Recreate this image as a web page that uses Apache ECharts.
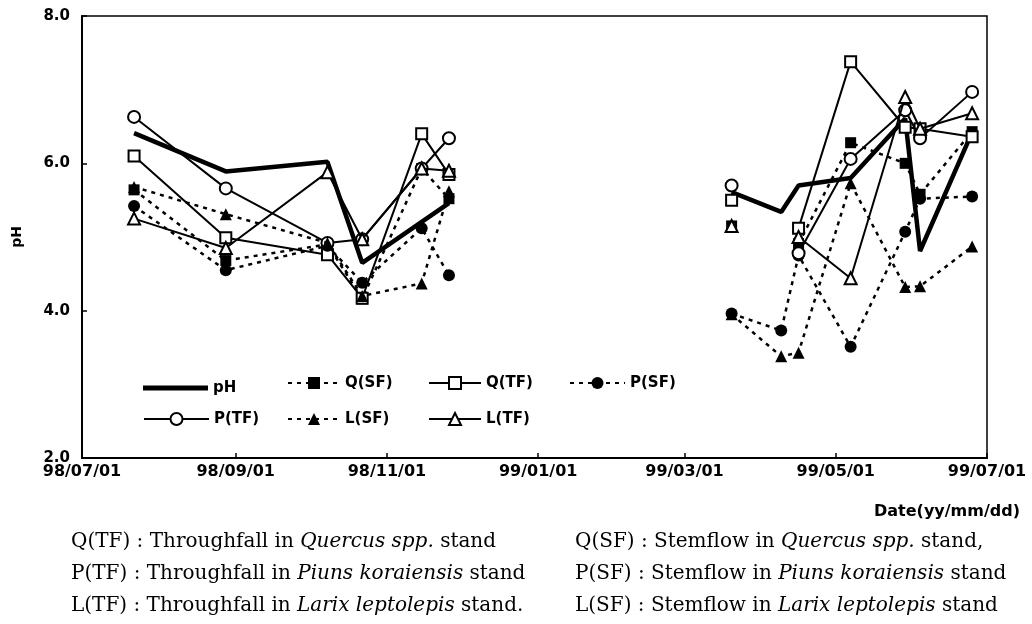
<!DOCTYPE html>
<html>
<head>
<meta charset="utf-8">
<script src="https://cdn.jsdelivr.net/npm/echarts@6/dist/echarts.min.js"></script>
<style>
html,body{margin:0;padding:0;background:#fff;}
#chart{width:1032px;height:624px;}
</style>
</head>
<body>
<div id="chart"></div>
<script>
// ---- Data ----
const tickLabels = ['98/07/01','98/09/01','98/11/01','99/01/01','99/03/01','99/05/01','99/07/01'];
const dates1 = ['1998-07-22','1998-08-28','1998-10-08','1998-10-22','1998-11-15','1998-11-26'];
const dates2 = ['1999-03-20','1999-04-09','1999-04-16','1999-05-07','1999-05-29','1999-06-04','1999-06-25'];
const phDates1 = ['1998-07-22','1998-08-28','1998-10-08','1998-10-22','1998-11-26'];

const pH1  = [6.41, 5.89, 6.02, 4.65, 5.46];
const pH2  = [5.61, 5.34, 5.70, 5.80, 6.61, 4.81, 6.42];
const qsf1 = [5.64, 4.68, 4.90, 4.16, 5.93, 5.52];
const qsf2 = [5.15, null, 4.91, 6.28, 6.00, 5.58, 6.43];
const qtf1 = [6.10, 4.99, 4.76, 4.17, 6.40, 5.85];
const qtf2 = [5.50, null, 5.12, 7.38, 6.49, 6.47, 6.36];
const psf1 = [5.42, 4.55, 4.88, 4.38, 5.12, 4.48];
const psf2 = [3.96, 3.73, 4.75, 3.51, 5.07, 5.52, 5.55];
const ptf1 = [6.63, 5.66, 4.92, 4.97, 5.93, 6.34];
const ptf2 = [5.70, null, 4.78, 6.06, 6.72, 6.34, 6.97];
const lsf1 = [5.68, 5.31, 4.92, 4.20, 4.37, 5.62];
const lsf2 = [3.95, 3.38, 3.43, 5.73, 4.32, 4.33, 4.87];
const ltf1 = [5.25, 4.85, 5.88, 4.97, 5.93, 5.90];
const ltf2 = [5.15, null, 5.00, 4.44, 6.90, 6.47, 6.68];

const captionLeft = [
  ['Q(TF) : Throughfall in ', 'Quercus spp.', ' stand'],
  ['P(TF) : Throughfall in ', 'Piuns koraiensis', ' stand'],
  ['L(TF) : Throughfall in ', 'Larix leptolepis', ' stand.']
];
const captionRight = [
  ['Q(SF) : Stemflow in ', 'Quercus spp.', ' stand,'],
  ['P(SF) : Stemflow in ', 'Piuns koraiensis', ' stand'],
  ['L(SF) : Stemflow in ', 'Larix leptolepis', ' stand']
];

// ---- Helpers ----
const DAY = 86400000;
function ts(s){ const p = s.split('-').map(Number); return Date.UTC(p[0], p[1]-1, p[2]) / DAY; }
function tickTs(s){ const p = s.split('/').map(Number); const y = p[0] < 50 ? 2000 + p[0] : 1900 + p[0]; return Date.UTC(y, p[1]-1, p[2]) / DAY; }
const tickValues = tickLabels.map(tickTs);
function pairs(dates, vals){ return dates.map((d,i)=>[ts(d), vals[i]]); }

const FONT = '"DejaVu Sans", "Liberation Sans", Arial, sans-serif';
const SERIF = '"DejaVu Serif", "Liberation Serif", serif';

const styles = {
  'pH':    {symbol:'none', line:{color:'#000', width:4.5, type:'solid'}},
  'Q(SF)': {symbol:'rect', size:11, fill:'#000', line:{color:'#000', width:2.5, type:[4,5]}},
  'Q(TF)': {symbol:'rect', size:11, fill:'#fff', line:{color:'#000', width:2, type:'solid'}},
  'P(SF)': {symbol:'circle', size:12, fill:'#000', line:{color:'#000', width:2.5, type:[4,5]}},
  'P(TF)': {symbol:'circle', size:12, fill:'#fff', line:{color:'#000', width:2, type:'solid'}},
  'L(SF)': {symbol:'triangle', size:12, fill:'#000', line:{color:'#000', width:2.5, type:[4,5]}},
  'L(TF)': {symbol:'triangle', size:12, fill:'#fff', line:{color:'#000', width:2, type:'solid'}}
};

const seriesDefs = [
  ['pH',    pairs(phDates1, pH1), pairs(dates2, pH2)],
  ['Q(SF)', pairs(dates1, qsf1),  pairs(dates2, qsf2)],
  ['Q(TF)', pairs(dates1, qtf1),  pairs(dates2, qtf2)],
  ['P(SF)', pairs(dates1, psf1),  pairs(dates2, psf2)],
  ['P(TF)', pairs(dates1, ptf1),  pairs(dates2, ptf2)],
  ['L(SF)', pairs(dates1, lsf1),  pairs(dates2, lsf2)],
  ['L(TF)', pairs(dates1, ltf1),  pairs(dates2, ltf2)]
];

const series = [];
seriesDefs.forEach((d, k) => {
  const st = styles[d[0]];
  [d[1], d[2]].forEach(data => {
    series.push({
      name: d[0], type: 'line', data: data, z: 2 + k,
      connectNulls: false, animation: false,
      symbol: st.symbol, symbolSize: st.size || 0, showAllSymbol: true,
      lineStyle: {color: st.line.color, width: st.line.width, type: st.line.type},
      itemStyle: {color: st.fill || '#000', borderColor: '#000', borderWidth: st.fill === '#fff' ? 2 : 0, opacity: 1},
      emphasis: {disabled: true}
    });
  });
});

// legend: [left, rowCenterY, iconWidth]
const legendPos = {
  'pH':[143,383,65], 'Q(SF)':[287,383,52], 'Q(TF)':[428,383,52], 'P(SF)':[569,383,55],
  'P(TF)':[143,419,65], 'L(SF)':[287,419,52], 'L(TF)':[428,419,52]
};
const legends = Object.keys(legendPos).map(n => {
  const isPH = n === 'pH';
  const h = isPH ? 5 : 15;
  const lg = {
    data: [n], left: legendPos[n][0], top: legendPos[n][1] - h / 2, padding: 0,
    itemWidth: legendPos[n][2], itemHeight: h, itemGap: 0, selectedMode: false,
    textStyle: {fontFamily: FONT, fontWeight: 'bold', fontSize: 15, color: '#000'}
  };
  if (isPH) { lg.icon = 'rect'; lg.itemStyle = {color: '#000', borderWidth: 0}; }
  return lg;
});

function captionText(rows, x){
  return rows.map((r, i) => ({
    type: 'text', left: x, top: 532 + i * 32,
    style: {
      text: '{n|' + r[0] + '}{i|' + r[1] + '}{n|' + r[2] + '}',
      rich: {
        n: {fontFamily: SERIF, fontSize: 20, fill: '#000', color: '#000'},
        i: {fontFamily: SERIF, fontSize: 20, fontStyle: 'italic', fill: '#000', color: '#000'}
      }
    }
  }));
}

const option = {
  animation: false,
  backgroundColor: '#fff',
  grid: {left: 82, right: 45, top: 16, bottom: 166, show: true, borderColor: '#000', borderWidth: 1.5, backgroundColor: 'transparent'},
  xAxis: {
    type: 'value', min: tickValues[0], max: tickValues[tickValues.length - 1],
    axisLine: {show: true, lineStyle: {color: '#000', width: 2}},
    axisTick: {show: true, inside: true, length: 5, lineStyle: {color: '#000', width: 1.5}, customValues: tickValues},
    axisLabel: {
      customValues: tickValues, margin: 6, color: '#000', fontFamily: FONT, fontWeight: 'bold', fontSize: 16,
      showMinLabel: true, showMaxLabel: true, hideOverlap: false,
      formatter: function(v){ const i = tickValues.indexOf(v); return i >= 0 ? tickLabels[i] : ''; }
    },
    splitLine: {show: false}
  },
  yAxis: {
    type: 'value', min: 2, max: 8, interval: 2,
    name: 'pH', nameLocation: 'middle', nameGap: 58, nameRotate: 90,
    nameTextStyle: {fontFamily: FONT, fontWeight: 'bold', fontSize: 14, color: '#000'},
    axisLine: {show: true, lineStyle: {color: '#000', width: 2}},
    axisTick: {show: true, inside: true, length: 5, lineStyle: {color: '#000', width: 1.5}},
    axisLabel: {margin: 12, color: '#000', fontFamily: FONT, fontWeight: 'bold', fontSize: 15, formatter: v => v.toFixed(1)},
    splitLine: {show: false}
  },
  legend: legends,
  series: series,
  graphic: [
    {type: 'text', right: 12, top: 504, style: {text: 'Date(yy/mm/dd)', fontFamily: FONT, fontWeight: 'bold', fontSize: 16, fill: '#000'}}
  ].concat(captionText(captionLeft, 71)).concat(captionText(captionRight, 575))
};

const chart = echarts.init(document.getElementById('chart'), null, {renderer: 'canvas'});
chart.setOption(option);
</script>
</body>
</html>
